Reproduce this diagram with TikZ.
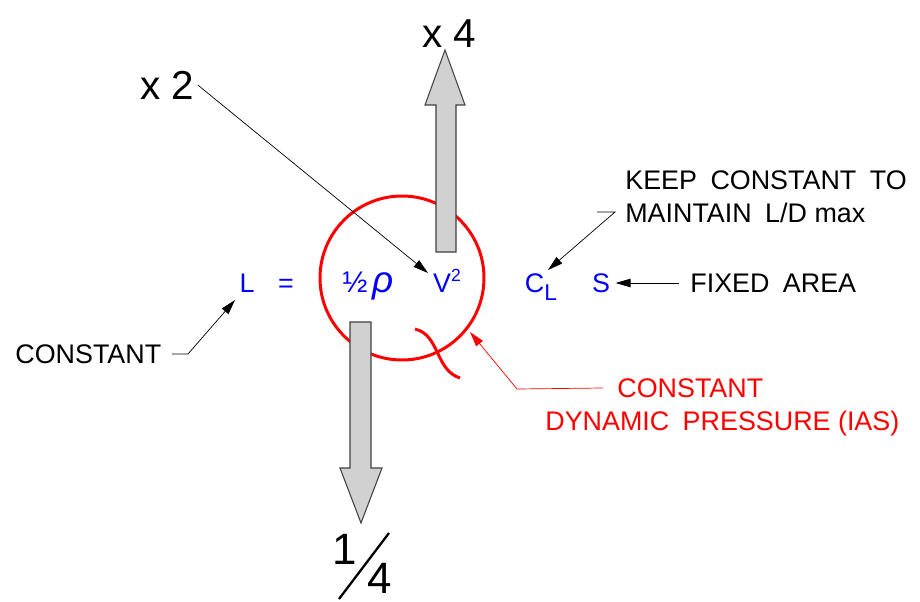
\documentclass[tikz,border=0pt]{standalone}
\usepackage{fontspec}
\setmainfont{Liberation Sans}
\usepackage{tikz}
\usetikzlibrary{arrows.meta}
\tikzset{
  txt/.style={inner sep=0pt, font=\fontsize{15.3}{19}\selectfont},
  eq/.style={txt, text=blue, anchor=base},
  note/.style={txt, anchor=west},
  rednote/.style={note, text=red},
  big/.style={inner sep=0pt, font=\fontsize{23}{26}\selectfont},
  digit/.style={inner sep=0pt, font=\fontsize{25}{28}\selectfont},
  lead/.style={-{Triangle[length=3mm,width=1.7mm]}, line width=0.4pt},
  redlead/.style={lead, red},
  thrust/.style={draw=black!75, fill=black!18, line width=0.6pt},
}
\newcommand{\wsp}{\hspace{0.5em}}

\begin{document}
\begin{tikzpicture}[x=0.02cm, y=-0.02cm]
\useasboundingbox (0,0) rectangle (920,602);
% q circle and the wiggle
\draw[red, line width=1.7pt] (402,278) circle (82);
\draw[red, line width=1.7pt] (415,329) .. controls (440,335) and (435,370) .. (460,378);
% lift / density arrows
\draw[thrust] (436,252) -- (436,105) -- (425,105) -- (445,50) -- (465,105) -- (456,105) -- (456,252) -- cycle;
\draw[thrust] (350,322) -- (350,468) -- (340,468) -- (361,523) -- (382,468) -- (371,468) -- (371,322) -- cycle;
% equation
\node[eq] (L) at (247,292) {L};
\node[eq] (eqs) at (286,292) {=};
\node[eq] (rho) at (368,292) {{\fontsize{17}{19}\selectfont ½}\,{\fontsize{21}{22}\selectfont\textit{ρ}}};
\node[eq] (V) at (447,292) {V\raisebox{6pt}{\fontsize{10}{11}\selectfont 2}};
\node[eq] (CL) at (541,292) {C\raisebox{-5pt}{\fontsize{13}{14}\selectfont L}};
\node[eq] (S) at (601,292) {S};
% labels
\node[big] (x4) at (449,34) {x 4};
\node[big] (x2) at (167,85) {x 2};
\node[note] (cst) at (15,354) {CONSTANT};
\node[note, align=left] (keep) at (625,197) {KEEP\wsp CONSTANT\wsp TO\\MAINTAIN\wsp L/D max};
\node[note] (fixed) at (690,283) {FIXED\wsp AREA};
\node[rednote] (dyn1) at (617,388) {CONSTANT};
\node[rednote] (dyn2) at (545,424) {DYNAMIC\wsp PRESSURE (IAS)};
% one quarter
\node[digit] (one) at (345,549) {1};
\node[digit] (four) at (380,578) {4};
\coordinate (sA) at (339,599);
\coordinate (sB) at (389,533);
\draw[line width=1.3pt] (sA) -- (sB);
% leaders
\coordinate (tV) at (428,273);
\coordinate (tL) at (235,300);
\coordinate (kL) at (597,212);
\coordinate (kB) at (615,212);
\coordinate (tC) at (548,270);
\coordinate (qB) at (517,389);
\coordinate (tQ) at (470,332);
\draw[lead] ([xshift=2pt]x2.east) -- (tV);
\draw[lead] ([xshift=6pt]cst.east) -- (188,354) -- (tL);
\draw[lead] (kL) -- (kB) -- (tC);
\draw[lead] ([xshift=-6pt]fixed.west) -- ([xshift=3pt]S.east |- fixed.west);
\draw[redlead] ([xshift=-8pt]dyn1.west) -- (qB) -- (tQ);
\end{tikzpicture}
\end{document}
